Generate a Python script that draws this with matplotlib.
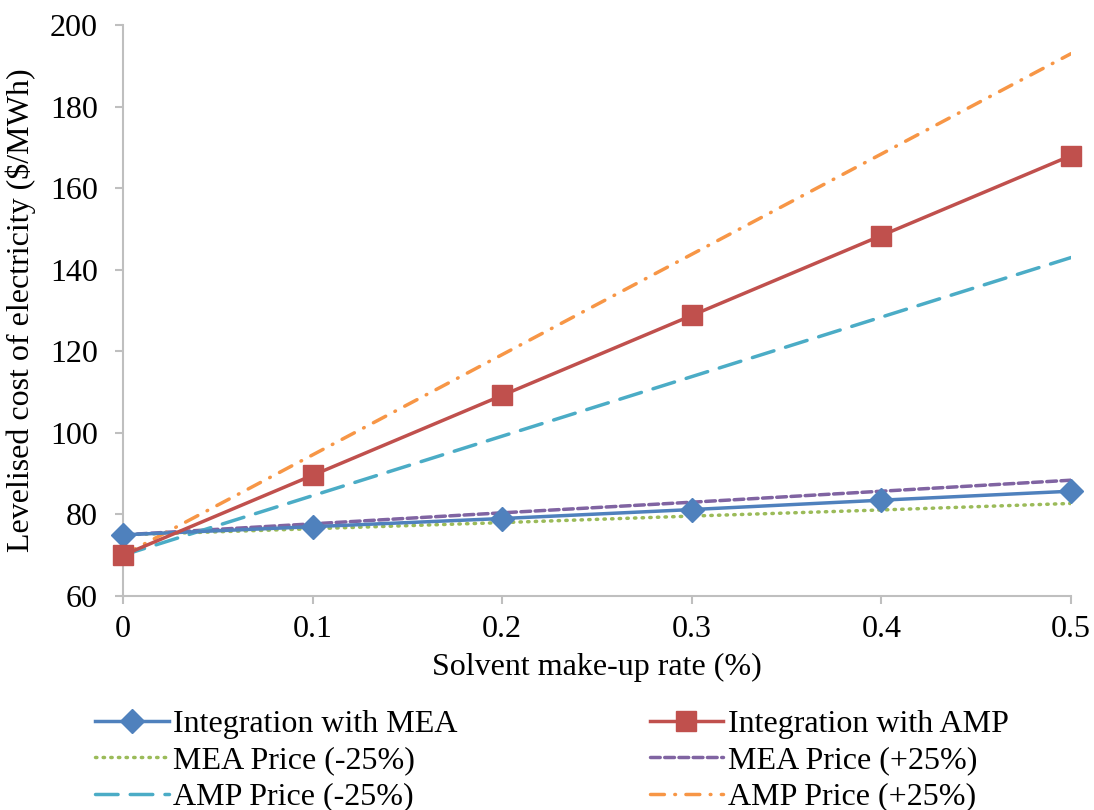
import matplotlib
matplotlib.use('Agg')
import matplotlib.pyplot as plt

# solvent make-up rate (%) and levelised cost of electricity ($/MWh)
rate = [0, 0.1, 0.2, 0.3, 0.4, 0.5]
mea = [75.0, 77.0, 79.0, 81.2, 83.5, 85.7]
amp = [70.0, 89.6, 109.2, 128.8, 148.4, 168.0]
mea_lo = [75.0, 76.5, 78.0, 79.6, 81.1, 82.7]
mea_hi = [75.0, 77.7, 80.4, 83.0, 85.7, 88.4]
amp_lo = [70.0, 84.6, 99.2, 113.8, 128.4, 143.0]
amp_hi = [70.0, 94.6, 119.2, 143.8, 168.4, 193.0]

plt.rcParams['font.family'] = ['Liberation Serif', 'DejaVu Serif']
fs = 23
fig = plt.figure(figsize=(10.94, 8.10), dpi=100)
ax = fig.add_axes([0.1124, 0.2642, 0.8666, 0.7048])

lw = 2.5
ax.plot(rate, mea, '-', c='#4F81BD', lw=lw, marker='D', ms=12, label='Integration with MEA', zorder=5, clip_on=False)
ax.plot(rate, amp, '-', c='#C0504D', lw=lw, marker='s', ms=14, label='Integration with AMP', zorder=5, clip_on=False)
ax.plot(rate, mea_lo, c='#9BBB59', lw=lw, ls=(0, (0.4, 1.8)), dash_capstyle='round', label='MEA Price (-25%)')
ax.plot(rate, mea_hi, c='#8064A2', lw=lw, ls=(0, (2.8, 1.3)), dash_capstyle='round', label='MEA Price (+25%)')
ax.plot(rate, amp_lo, c='#4BACC6', lw=lw, ls=(0, (6.5, 3.5)), dash_capstyle='round', label='AMP Price (-25%)')
ax.plot(rate, amp_hi, c='#F79646', lw=lw, ls=(0, (4, 3, 0.2, 3)), dash_capstyle='round', label='AMP Price (+25%)')

ax.set_xlim(0, 0.5)
ax.set_ylim(60, 200)
ax.set_xticks(rate)
ax.set_xticklabels(['0', '0.1', '0.2', '0.3', '0.4', '0.5'])
ax.set_yticks(range(60, 201, 20))
for s in ['top', 'right']:
    ax.spines[s].set_visible(False)
for s in ['left', 'bottom']:
    ax.spines[s].set_color('#BFBFBF')
    ax.spines[s].set_linewidth(1.5)
ax.tick_params(direction='out', length=6, width=1.5, color='#BFBFBF', labelsize=fs)
ax.tick_params(axis='x', pad=8)
ax.tick_params(axis='y', pad=12)
ax.set_xlabel('Solvent make-up rate (%)', fontsize=fs, labelpad=6)
ax.set_ylabel('Levelised cost of electricity ($/MWh)', fontsize=fs, labelpad=10)

# legend filled row by row: MEA/AMP pairs side by side
h, l = ax.get_legend_handles_labels()
order = [0, 2, 4, 1, 3, 5]
fig.legend([h[i] for i in order], [l[i] for i in order], ncol=2, loc='upper left',
           bbox_to_anchor=(0.087, 0.124), frameon=False, fontsize=fs,
           handlelength=2.3, handletextpad=0.15, columnspacing=6.0, labelspacing=0.22,
           borderpad=0, borderaxespad=0)

fig.savefig('out.png', dpi=100)
